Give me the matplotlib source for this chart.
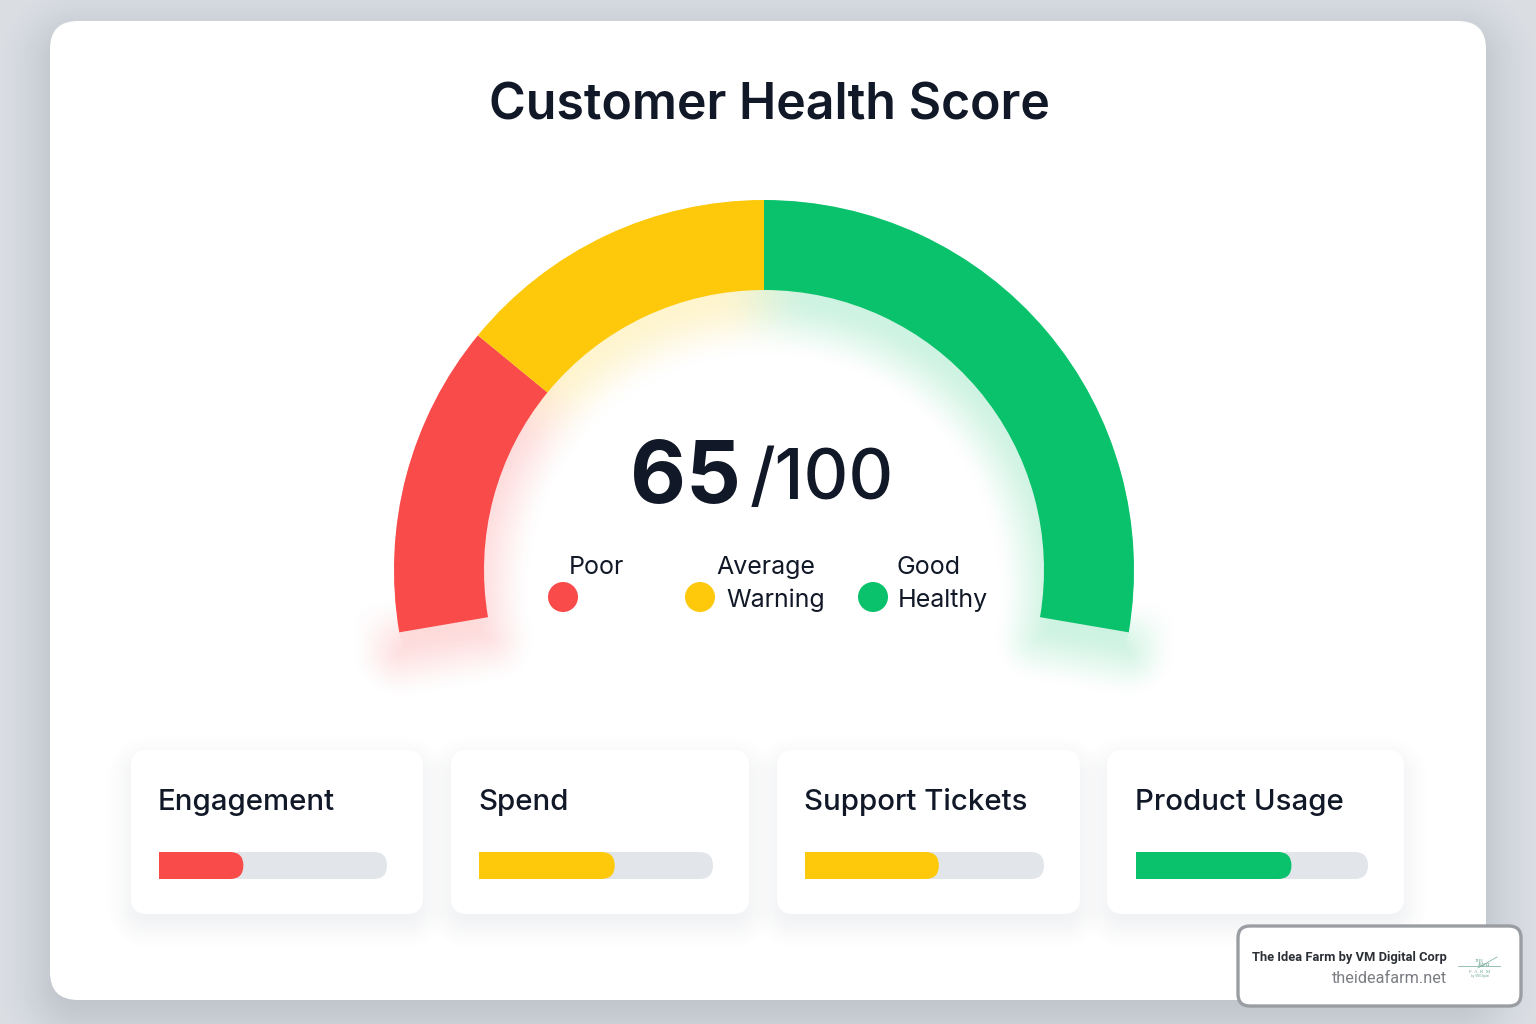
import numpy as np
import matplotlib
matplotlib.use("Agg")
import matplotlib.pyplot as plt
from matplotlib.patches import Wedge, FancyBboxPatch, Rectangle, Circle
from matplotlib.colors import to_rgb

# ---- data ----
title = "Customer Health Score"
score_value = "65"
score_total = "/100"
zone_names = ["Poor", "Warning", "Healthy"]
zone_shares = [24.6, 25.4, 50]
zone_colors = ["#F94B4A", "#FDC90A", "#0AC26C"]
legend_top = ["Poor", "Average", "Good"]
legend_bottom = ["", "Warning", "Healthy"]
metric_names = ["Engagement", "Spend", "Support Tickets", "Product Usage"]
metric_values = [37, 58, 56, 67]
metric_colors = ["#F94B4A", "#FDC90A", "#FDC90A", "#0AC26C"]
credit_name = "The Idea Farm by VM Digital Corp"
credit_site = "theideafarm.net"

# ---- layout (pixels) ----
W, H = 1536, 1024
INK = "#111827"
CX, CY, R_OUT, R_IN = 764, 570, 370, 280
START, SWEEP = 189.7, 199.4
plt.rcParams["font.family"] = ["Inter", "DejaVu Sans"]

fig = plt.figure(figsize=(W / 100, H / 100), dpi=100)
ax = fig.add_axes([0, 0, 1, 1])
yy, xx = np.mgrid[0:H, 0:W] + 0.5


def smooth(t):
    t = np.clip(t, 0, 1)
    return t * t * (3 - 2 * t)


def sdf_rect(x0, y0, x1, y1, r):
    qx = np.abs(xx - (x0 + x1) / 2) - ((x1 - x0) / 2 - r)
    qy = np.abs(yy - (y0 + y1) / 2) - ((y1 - y0) / 2 - r)
    return np.hypot(np.maximum(qx, 0), np.maximum(qy, 0)) + np.minimum(np.maximum(qx, qy), 0) - r


def layer(alpha, color, z):
    img = np.zeros((H, W, 4))
    img[..., :3] = color
    img[..., 3] = alpha
    ax.imshow(img, extent=(0, W, H, 0), zorder=z, interpolation="nearest", aspect="auto")


def rbox(x0, y0, x1, y1, r, **kw):
    p = FancyBboxPatch((x0 + r, y0 + r), x1 - x0 - 2 * r, y1 - y0 - 2 * r,
                       boxstyle=f"round,pad={r},rounding_size={r}", **kw)
    ax.add_patch(p)
    return p


# page background with a soft shadow of the large card
bg = np.zeros((H, W, 3))
bg[...] = to_rgb("#DADEE3")
ax.imshow(bg, extent=(0, W, H, 0), zorder=0, aspect="auto")
d = sdf_rect(50, 35, 1486, 1014, 28)
layer(0.30 * smooth(1 - (d + 30) / 85), to_rgb("#7C8494"), 1)
rbox(50, 21, 1486, 1000, 28, fc="white", ec="none", zorder=2)

# coloured glow under the gauge
gy = yy - 20
rho = np.hypot(xx - CX, gy - CY)
ang = np.degrees(np.arctan2(CY - gy, xx - CX))
from_top = np.abs(((ang - 90 + 180) % 360) - 180)
dr = np.abs(rho - (R_OUT + R_IN) / 2) - (R_OUT - R_IN) / 2
da = np.radians(from_top - SWEEP / 2) * rho
ds = np.hypot(np.maximum(dr, 0), np.maximum(da, 0)) + np.minimum(np.maximum(dr, da), 0)
rho0 = np.hypot(xx - CX, yy - CY)
keep = np.where(rho0 < R_OUT, 1.0, smooth((yy - (CY + 25)) / 60))
glow = 0.20 * smooth(1 - (ds + 16) / 66) * keep
lang = ((ang + 360 + 90) % 360) - 90  # continuous from -90 to 270
bounds = START - np.cumsum(zone_shares) / sum(zone_shares) * SWEEP
cols = np.array([to_rgb(c) for c in zone_colors])
w_red = smooth((lang - bounds[0] + 10) / 20)     # 1 in the red zone
w_grn = 1 - smooth((lang - bounds[1] + 10) / 20)  # 1 in the green zone
shade = (cols[2] * w_grn[..., None] + (1 - w_grn)[..., None]
         * (cols[0] * w_red[..., None] + cols[1] * (1 - w_red)[..., None]))
ax.imshow(np.dstack([shade, glow]), extent=(0, W, H, 0), zorder=3, aspect="auto", interpolation="nearest")

# gauge arcs (y axis runs down, hence the negated angles)
a = START
for share, col in zip(zone_shares, zone_colors):
    b = a - share / sum(zone_shares) * SWEEP
    ax.add_patch(Wedge((CX, CY), R_OUT, -a, -b, width=R_OUT - R_IN, fc=col, ec="none", zorder=5))
    a = b

# title and score
ax.text(769, 120, title, fontsize=36, fontweight="semibold", color=INK, ha="center", va="baseline", zorder=8)
ax.text(630, 503, score_value, fontsize=62, fontweight="bold", color=INK, ha="left", va="baseline", zorder=8)
ax.text(750, 499, score_total, fontsize=50, fontweight="medium", color=INK, ha="left", va="baseline", zorder=8)

# legend
for x, s in zip([569, 716, 896], legend_top):
    ax.text(x, 574, s, fontsize=18, color=INK, ha="left", va="baseline", zorder=8)
for x, tx, s, col in zip([563, 700, 873], [726, 726, 898], legend_bottom, zone_colors):
    ax.add_patch(Circle((x, 597), 15, fc=col, ec="none", zorder=8))
    if s:
        ax.text(tx, 607, s, fontsize=18, color=INK, ha="left", va="baseline", zorder=8)

# metric cards
cards = [(131, 423), (451, 749), (777, 1080), (1107, 1404)]
tracks = [(159, 387), (479, 713), (805, 1044), (1136, 1368)]
Y0, Y1 = 750, 914
BY0, BY1 = 852, 879
for (cx0, cx1) in cards:
    d = sdf_rect(cx0, Y0 + 10, cx1, Y1 + 10, 16)
    layer(0.10 * smooth(1 - (d + 16) / 44), to_rgb("#6B7488"), 3)
for (cx0, cx1), (tx0, tx1), name, val, col in zip(cards, tracks, metric_names, metric_values, metric_colors):
    rbox(cx0, Y0, cx1, Y1, 16, fc="white", ec="none", zorder=4)
    ax.text(tx0 - 1, 810, name, fontsize=21.2, fontweight="medium", color=INK, ha="left", va="baseline", zorder=8)
    rbox(tx0, BY0, tx1, BY1, 13.5, fc="#E2E5EA", ec="none", zorder=5)
    xv = tx0 + val / 100 * (tx1 - tx0)
    p = rbox(tx0 - 30, BY0, xv, BY1, 13.5, fc=col, ec="none", zorder=6)
    clip = Rectangle((tx0, BY0 - 1), xv - tx0 + 1, BY1 - BY0 + 2, transform=ax.transData)
    p.set_clip_path(clip)

# credit box
rbox(1238, 926, 1521, 1006, 12, fc="white", ec="#9A9DA1", lw=2.4, zorder=9)
ax.text(1447, 961, credit_name, fontsize=9.3, fontweight="bold", family="Roboto", color="#2B2F36",
        ha="right", va="baseline", zorder=10)
ax.text(1447, 983, credit_site, fontsize=11.7, family="Roboto", color="#7A7D82",
        ha="right", va="baseline", zorder=10)
LOGO = "#6FA893"
ax.text(1479, 962, "THE", fontsize=3.4, family="Liberation Serif", color=LOGO, ha="center", va="baseline", zorder=10)
ax.text(1483, 966, "Idea", fontsize=5, style="italic", family="Liberation Serif", color=LOGO, ha="center", va="baseline", zorder=10)
ax.plot([1458, 1500], [966, 966], color=LOGO, lw=0.5, zorder=10)
ax.plot([1478, 1497], [968, 957], color=LOGO, lw=0.5, zorder=10)
ax.text(1480, 973, "F  A  R  M", fontsize=3.6, family="Liberation Serif", color=LOGO, ha="center", va="baseline", zorder=10)
ax.text(1480, 977, "by VM Digital", fontsize=2.2, family="Liberation Sans", color=LOGO, ha="center", va="baseline", zorder=10)

ax.set_xlim(0, W)
ax.set_ylim(H, 0)
ax.axis("off")
fig.savefig("out.png", dpi=100)
